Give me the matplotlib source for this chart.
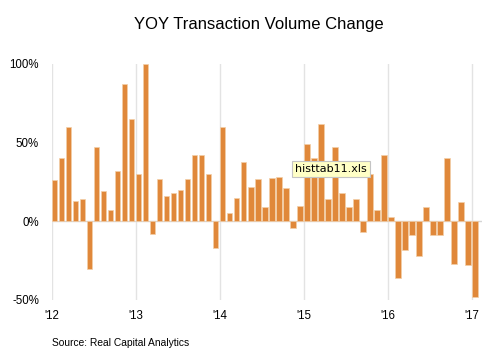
import matplotlib
matplotlib.use('Agg')
import matplotlib.pyplot as plt
import numpy as np

plt.rcParams['font.family'] = ['Liberation Sans', 'DejaVu Sans']

# monthly YOY change (%), Jan 2012 .. Jan 2017
vals_2012 = [26, 40, 60, 13, 14, -30, 47, 19, 7, 32, 87, 65]
vals_2013 = [30, 100, -8, 27, 16, 18, 20, 27, 42, 42, 30, -17]
vals_2014 = [60, 5, 15, 38, 22, 27, 9, 27.5, 28, 21, -4, 10]
vals_2015 = [49, 40, 62, 14, 47, 18, 9, 14, -7, 30, 7, 42]
vals_2016 = [3, -36, -18, -9, -22, 9, -9, -9, 40, -27, 12, -28]
vals_2017 = [-48]
values = vals_2012 + vals_2013 + vals_2014 + vals_2015 + vals_2016 + vals_2017

year_labels = ["'12", "'13", "'14", "'15", "'16", "'17"]
y_ticks = [-50, 0, 50, 100]
y_labels = ['-50%', '0%', '50%', '100%']

W, H = 493, 358
fig = plt.figure(figsize=(W / 100, H / 100), dpi=100)
ax = fig.add_axes([51.5 / W, (H - 300) / H, (482 - 51.5) / W, (300 - 64) / H])

months = np.arange(len(values))
ax.bar(months, values, width=0.8, align='edge', color='#E0883A',
       edgecolor='#F3CFA8', linewidth=0.5, zorder=3)

ax.set_xlim(-0.02, 61.4)
ax.set_ylim(-50, 100)
ax.set_xticks(np.arange(0, 61, 12))
ax.set_xticklabels(year_labels, fontsize=8.3)
ax.set_yticks(y_ticks)
ax.set_yticklabels(y_labels, fontsize=8.3)
ax.tick_params(axis='both', length=0)
ax.tick_params(axis='y', pad=9)
ax.tick_params(axis='x', pad=7)
ax.xaxis.grid(True, color='#E3E3E3', linewidth=1, zorder=0)
ax.axhline(0, color='#D5D5D5', linewidth=1, zorder=1)
for s in ax.spines.values():
    s.set_visible(False)

fig.text(259 / W, 1 - 24 / H, 'YOY Transaction Volume Change', fontsize=12,
         ha='center', va='center')
fig.text(52 / W, 1 - 343 / H, 'Source: Real Capital Analytics', fontsize=7.4,
         ha='left', va='center')

# tooltip box
fig.text(331 / W, 1 - 169 / H, 'histtab11.xls', fontsize=8, ha='center',
         va='center', family=['DejaVu Sans'], zorder=10,
         bbox=dict(boxstyle='square,pad=0.3', facecolor='#FFFFC6',
                   edgecolor='#C4C4C4', linewidth=0.8))

fig.savefig('out.png', dpi=100)
